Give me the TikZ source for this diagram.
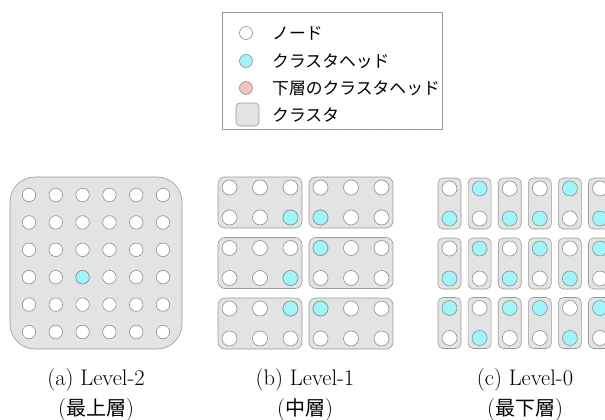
\documentclass[tikz,border=0pt]{standalone}
\usepackage{fontspec}
\newfontfamily\cjk{Noto Sans CJK JP}
\definecolor{boxfill}{RGB}{225,228,227}
\definecolor{boxline}{RGB}{150,155,152}
\definecolor{nodeline}{RGB}{140,146,142}
\definecolor{headcyan}{RGB}{160,245,250}
\definecolor{lowpink}{RGB}{242,196,186}
\tikzset{
  pn/.style={circle, draw=nodeline, fill=white, line width=0.6pt, inner sep=0pt, minimum size=#1},
  pn/.default=13pt,
  hd/.style={pn=#1, fill=headcyan},
  hd/.default=13pt,
  clbox/.style={draw=boxline, fill=boxfill, line width=0.6pt},
  legtext/.style={anchor=west, inner sep=0pt, font=\cjk\fontsize{16.8}{19}\selectfont},
  captext/.style={inner sep=0pt, font=\fontsize{22.5}{26}\selectfont}
}
\begin{document}
\begin{tikzpicture}[x=1pt,y=-1pt]
\useasboundingbox (0,0) rectangle (605,420);
\clip (0,0) rectangle (605,420);
% legend
\node[draw=boxline, line width=0.6pt, minimum width=220pt, minimum height=117pt, inner sep=0pt] (legend) at (332,70.5) {};
\node[pn=13pt] (lg1) at (246,33) {};
\node[pn=13pt, fill=headcyan] (lg2) at (246,61) {};
\node[pn=13pt, fill=lowpink] (lg3) at (246,88) {};
\node[clbox, rounded corners=4pt, minimum width=23pt, minimum height=23pt, inner sep=0pt] (lg4) at (247.5,114.5) {};
\node[legtext] (lt1) at (272,33) {ノード};
\node[legtext] (lt2) at (272,61) {クラスタヘッド};
\node[legtext] (lt3) at (272,88) {下層のクラスタヘッド};
\node[legtext] (lt4) at (272,115) {クラスタ};
% Level-2
\node[clbox, rounded corners=25pt, minimum width=172pt, minimum height=172pt, inner sep=0pt] (L2box) at (96,263) {};
\foreach \i in {0,...,5}{
  \foreach \j in {0,...,5}{
    \node[pn=13.5pt] (a-\i-\j) at ({29+26.8*\i},{195+27.4*\j}) {};
  }
}
\node[pn=13.5pt, fill=headcyan] (a-head) at ({29+26.8*2},{195+27.4*3}) {};
% Level-1
\foreach \r/\yc in {1/202.5,2/263,3/323.5}{
  \foreach \c/\xc in {1/260,2/351}{
    \node[clbox, rounded corners=7pt, minimum width=84pt, minimum height=51pt, inner sep=0pt] (b-box-\r-\c) at (\xc,\yc) {};
    \foreach \k in {-1,0,1}{
      \node[pn=15pt] (b-\r-\c-\k-t) at ({\xc+30.5*\k},{\yc-15}) {};
      \node[pn=15pt] (b-\r-\c-\k-b) at ({\xc+30.5*\k},{\yc+15}) {};
    }
  }
}
\node[hd=15pt] (bh1) at (290.5,217.5) {};
\node[hd=15pt] (bh2) at (320.5,217.5) {};
\node[hd=15pt] (bh3) at (290.5,278) {};
\node[hd=15pt] (bh4) at (320.5,248) {};
\node[hd=15pt] (bh5) at (290.5,308.5) {};
\node[hd=15pt] (bh6) at (320.5,308.5) {};
% Level-0
\foreach \r/\yc/\pat in {1/203.5/{0,1,0,0,1,0},2/263.5/{0,1,0,1,0,1},3/323/{1,0,1,1,0,1}}{
  \foreach \t [count=\c from 0] in \pat {
    \pgfmathsetmacro{\xc}{449.5+30.1*\c}
    \node[clbox, rounded corners=5pt, minimum width=23pt, minimum height=51pt, inner sep=0pt] (c-box-\r-\c) at (\xc,\yc) {};
    \ifnum\t=1
      \node[hd=15pt] (c-\r-\c-t) at (\xc,{\yc-15}) {};
      \node[pn=15pt] (c-\r-\c-b) at (\xc,{\yc+15}) {};
    \else
      \node[pn=15pt] (c-\r-\c-t) at (\xc,{\yc-15}) {};
      \node[hd=15pt] (c-\r-\c-b) at (\xc,{\yc+15}) {};
    \fi
  }
}
% captions
\node[captext] (capa) at (96,380) {(a) Level-2};
\node[captext] (capa2) at (96,410) {({\cjk\fontsize{20}{24}\selectfont 最上層})};
\node[captext] (capb) at (305,380) {(b) Level-1};
\node[captext] (capb2) at (305,410) {({\cjk\fontsize{20}{24}\selectfont 中層})};
\node[captext] (capc) at (525,380) {(c) Level-0};
\node[captext] (capc2) at (525,410) {({\cjk\fontsize{20}{24}\selectfont 最下層})};
\end{tikzpicture}
\end{document}
